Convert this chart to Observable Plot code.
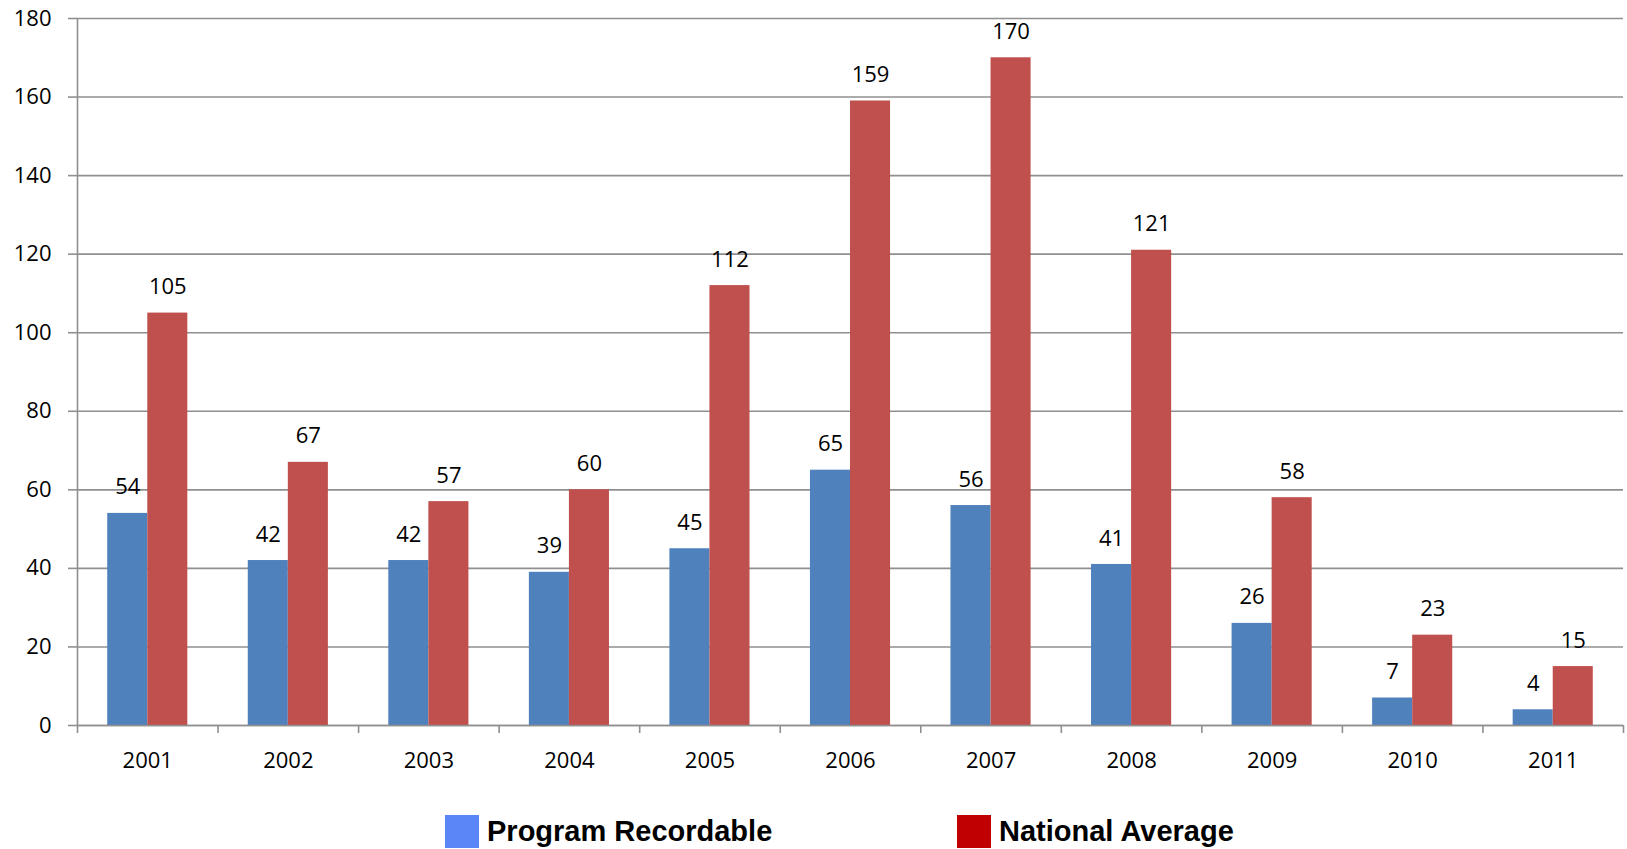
<!DOCTYPE html>
<html>
<head>
<meta charset="utf-8">
<script src="https://cdn.jsdelivr.net/npm/d3@7"></script>
<script src="https://cdn.jsdelivr.net/npm/@observablehq/plot@0.6"></script>
<style>
  html, body { margin: 0; padding: 0; background: #fff; }
  #legend { position: relative; height: 59px; width: 1627px; font-family: "Liberation Sans", Arial, sans-serif; font-weight: bold; font-size: 29px; color: #000; }
  .item { position: absolute; top: 25px; display: flex; align-items: center; }
  .sw { width: 34px; height: 33px; margin-right: 8px; }
</style>
</head>
<body>
<div id="chart"></div>
<div id="legend"></div>
<script>
const years = [2001, 2002, 2003, 2004, 2005, 2006, 2007, 2008, 2009, 2010, 2011];
const programRecordable = [54, 42, 42, 39, 45, 65, 56, 41, 26, 7, 4];
const nationalAverage = [105, 67, 57, 60, 112, 159, 170, 121, 58, 23, 15];
const seriesNames = ["Program Recordable", "National Average"];
const barColors = ["#4F81BD", "#C0504D"];
const legendColors = ["#5B86F8", "#C00000"];
const yTicks = [0, 20, 40, 60, 80, 100, 120, 140, 160, 180];

const half = 0.285; // bar width as a fraction of a year band
const rows = [];
years.forEach((yr, i) => {
  rows.push({year: yr, series: seriesNames[0], value: programRecordable[i], x1: yr - half, x2: yr});
  rows.push({year: yr, series: seriesNames[1], value: nationalAverage[i], x1: yr, x2: yr + half});
});
const boundaries = [years[0] - 0.5, ...years.map(y => y + 0.5)];

const gridColor = "#8f8f8f";
const chart = Plot.plot({
  width: 1627,
  height: 790,
  marginLeft: 77,
  marginRight: 4,
  marginTop: 18,
  marginBottom: 65,
  style: {fontFamily: "'Open Sans', sans-serif", fontSize: "22px", color: "#000", background: "#fff"},
  x: {type: "linear", domain: [years[0] - 0.5, years[years.length - 1] + 0.5]},
  y: {domain: [0, 180]},
  color: {domain: seriesNames, range: barColors},
  marks: [
    Plot.gridY(yTicks, {stroke: gridColor, strokeOpacity: 1, strokeWidth: 1.6}),
    Plot.rectY(rows, {x1: "x1", x2: "x2", y: "value", fill: "series"}),
    Plot.text(rows, {x: d => (d.x1 + d.x2) / 2, y: "value", text: d => String(d.value), dy: -26, fill: "#000", fontSize: 22}),
    Plot.ruleX([years[0] - 0.5], {y1: 0, y2: 180, stroke: gridColor, strokeWidth: 1.6}),
    Plot.ruleY([0], {stroke: gridColor, strokeWidth: 1.6}),
    Plot.axisY(yTicks, {tickSize: 9, tickPadding: 17, stroke: gridColor, strokeWidth: 1.6, label: null, fontSize: 22, fill: "#000"}),
    Plot.axisX(boundaries, {tickSize: 8, tickFormat: () => "", stroke: gridColor, strokeWidth: 1.6, label: null}),
    Plot.axisX(years, {tickSize: 0, tickPadding: 27, tickFormat: d => String(d), label: null, fontSize: 22, fill: "#000"})
  ]
});
document.getElementById("chart").appendChild(chart);

const legend = document.getElementById("legend");
const lefts = [445, 957];
seriesNames.forEach((name, i) => {
  const item = document.createElement("div");
  item.className = "item";
  item.style.left = lefts[i] + "px";
  const sw = document.createElement("span");
  sw.className = "sw";
  sw.style.background = legendColors[i];
  const t = document.createElement("span");
  t.textContent = name;
  item.appendChild(sw);
  item.appendChild(t);
  legend.appendChild(item);
});
</script>
</body>
</html>
